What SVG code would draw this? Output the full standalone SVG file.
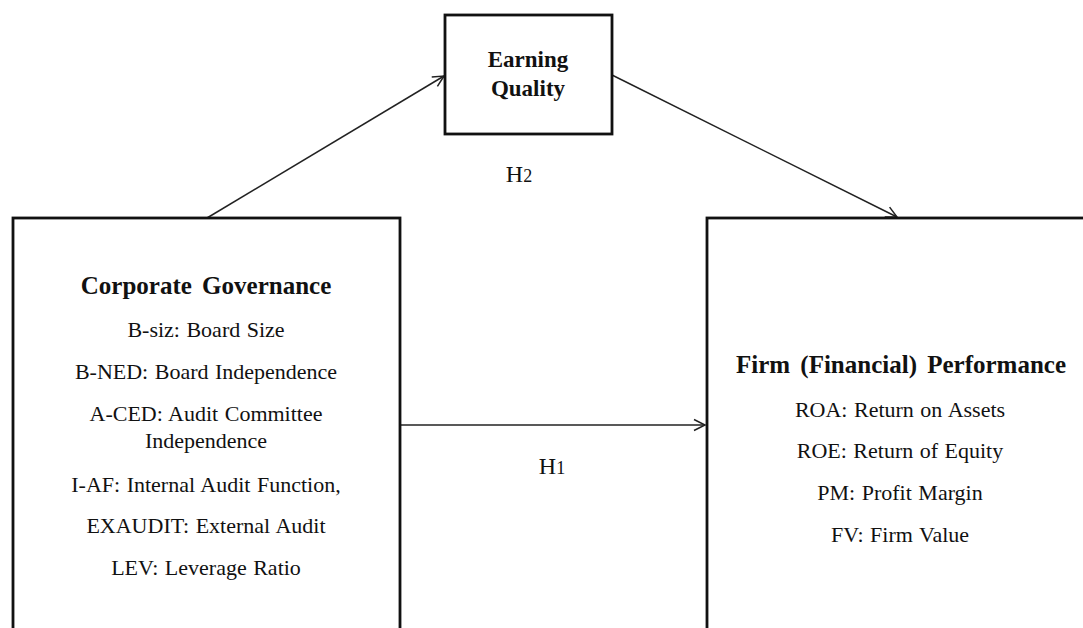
<svg xmlns="http://www.w3.org/2000/svg" width="1083" height="628" viewBox="0 0 1083 628">
<style>
.box{fill:#fff;stroke:#111;stroke-width:2.8}
.conn{stroke:#222;stroke-width:1.5;fill:none}
.t{font-family:"Liberation Serif","Times New Roman",serif;fill:#111;text-anchor:middle}
.b{font-weight:bold;font-size:25px;word-spacing:4px}
.r{font-size:22px;word-spacing:1px}
.h{font-size:24px}
.sub{font-size:18px}
</style>
<defs>
<marker id="arr" markerUnits="userSpaceOnUse" markerWidth="14" markerHeight="14" viewBox="0 0 14 14" refX="12" refY="7" orient="auto">
<path d="M1,1.5 L12,7 L1,12.5" fill="none" stroke="#222" stroke-width="1.5"/>
</marker>
</defs>
<rect width="1083" height="628" fill="#fff"/>
<g id="connectors">
<line class="conn" x1="207" y1="218" x2="444" y2="76" marker-end="url(#arr)"/>
<line class="conn" x1="612" y1="75" x2="897" y2="217" marker-end="url(#arr)"/>
<line class="conn" x1="400" y1="425" x2="705" y2="425" marker-end="url(#arr)"/>
<text class="t h" x="519" y="182">H<tspan class="sub">2</tspan></text>
<text class="t h" x="552" y="474">H<tspan class="sub">1</tspan></text>
</g>
<g id="earning-quality">
<rect class="box" x="445" y="15" width="167" height="119"/>
<text class="t b" x="528" y="67" style="font-size:23px">Earning</text>
<text class="t b" x="528" y="96" style="font-size:23px">Quality</text>
</g>
<g id="corporate-governance">
<rect class="box" x="13" y="218" width="387" height="440"/>
<text class="t b" x="206" y="294">Corporate Governance</text>
<text class="t r" x="206" y="337">B-siz: Board Size</text>
<text class="t r" x="206" y="379">B-NED: Board Independence</text>
<text class="t r" x="206" y="421">A-CED: Audit Committee</text>
<text class="t r" x="206" y="448">Independence</text>
<text class="t r" x="206" y="492">I-AF: Internal Audit Function,</text>
<text class="t r" x="206" y="533">EXAUDIT: External Audit</text>
<text class="t r" x="206" y="575">LEV: Leverage Ratio</text>
</g>
<g id="firm-performance">
<rect class="box" x="707" y="218" width="420" height="440"/>
<text class="t b" x="901" y="373">Firm (Financial) Performance</text>
<text class="t r" x="900" y="417">ROA: Return on Assets</text>
<text class="t r" x="900" y="458">ROE: Return of Equity</text>
<text class="t r" x="900" y="500">PM: Profit Margin</text>
<text class="t r" x="900" y="542">FV: Firm Value</text>
</g>
</svg>
